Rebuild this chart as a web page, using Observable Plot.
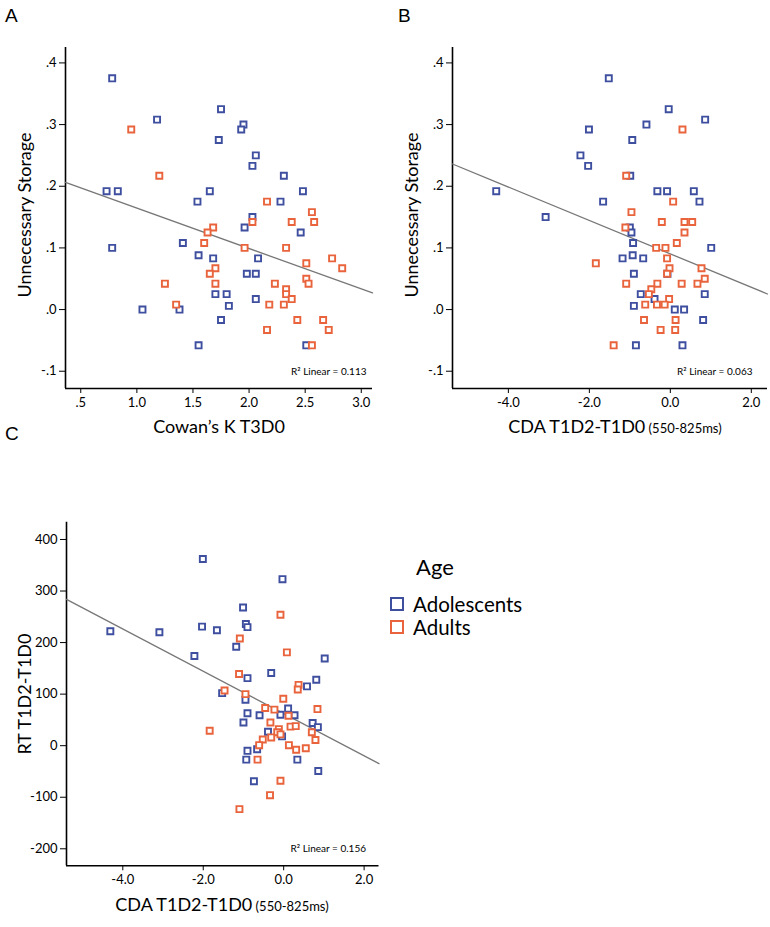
<!DOCTYPE html>
<html><head><meta charset="utf-8">
<script src="https://cdn.jsdelivr.net/npm/d3@7"></script>
<script src="https://cdn.jsdelivr.net/npm/@observablehq/plot@0.6"></script>
<style>
body{margin:0;background:#fff;}
#page{position:relative;width:770px;height:927px;font-family:Lato,"Open Sans",sans-serif;color:#000;overflow:hidden;}
.panel{position:absolute;}
.letter{position:absolute;font-family:"Liberation Sans Narrow","Liberation Sans",sans-serif;font-size:19px;line-height:1;}
#legend{position:absolute;left:390px;top:554px;font-family:Lato,"Open Sans",sans-serif;}
#legend .title{font-size:22px;line-height:25px;margin-left:26px;margin-bottom:13px;}
#legend .row{display:flex;align-items:center;font-size:20.5px;height:23px;}
#legend .sw{width:10px;height:10px;border:2px solid;margin-right:9px;box-sizing:content-box;}
</style></head><body><div id="page"></div>
<script>
// ---------- data ----------
const groups = ["Adolescents", "Adults"];
const groupColors = ["#3f4fa0", "#e9643c"];

// Panel A: Cowan's K T3D0 vs Unnecessary Storage
const adolA = [[0.78,0.375],[1.75,0.325],[1.18,0.308],[1.95,0.300],[1.93,0.292],[1.73,0.275],[2.06,0.250],[2.03,0.233],[2.31,0.217],[0.73,0.192],[0.83,0.192],[1.65,0.192],[2.48,0.192],[1.54,0.175],[2.28,0.175],[2.03,0.150],[1.96,0.133],[2.46,0.125],[1.41,0.108],[0.78,0.100],[1.55,0.088],[1.68,0.083],[2.08,0.083],[1.98,0.058],[2.06,0.058],[1.70,0.025],[1.80,0.025],[2.06,0.017],[1.82,0.006],[1.05,0.000],[1.38,0.000],[1.75,-0.017],[1.55,-0.058],[2.51,-0.058]];
const adultA = [[0.95,0.292],[1.20,0.217],[2.16,0.175],[2.56,0.158],[2.03,0.142],[2.38,0.142],[2.58,0.142],[1.68,0.133],[1.63,0.125],[1.60,0.108],[1.96,0.100],[2.33,0.100],[2.74,0.083],[2.51,0.075],[2.83,0.067],[1.70,0.067],[1.65,0.058],[2.51,0.050],[2.53,0.042],[1.25,0.042],[1.70,0.042],[2.23,0.042],[2.33,0.033],[2.33,0.025],[2.38,0.017],[2.18,0.008],[2.31,0.008],[1.35,0.008],[2.43,-0.017],[2.66,-0.017],[2.16,-0.033],[2.71,-0.033],[2.56,-0.058]];
const fitA = [0.230, -0.0655];   // intercept, slope
const r2A = "0.113";

// Panel B: CDA T1D2-T1D0 vs Unnecessary Storage
const adolB = [[-1.52,0.375],[-0.04,0.325],[0.86,0.308],[-0.59,0.300],[-2.01,0.292],[-0.94,0.275],[-2.22,0.250],[-2.03,0.233],[-0.99,0.217],[-4.30,0.192],[-0.32,0.192],[-0.08,0.192],[0.58,0.192],[-1.66,0.175],[0.72,0.175],[-3.08,0.150],[-1.00,0.133],[-0.96,0.125],[-0.92,0.108],[1.01,0.100],[-1.18,0.083],[-0.93,0.088],[-0.67,0.083],[-0.07,0.058],[-0.90,0.058],[-0.73,0.025],[0.85,0.025],[-0.39,0.017],[-0.90,0.006],[0.11,0.000],[0.34,0.000],[0.81,-0.017],[-0.85,-0.058],[0.30,-0.058]];
const adultB = [[0.30,0.292],[-1.09,0.217],[0.07,0.175],[-0.96,0.158],[-0.21,0.142],[0.35,0.142],[0.54,0.142],[-1.11,0.133],[0.35,0.125],[0.16,0.108],[-0.35,0.100],[-0.12,0.100],[-0.08,0.083],[-1.84,0.075],[-0.02,0.067],[0.77,0.067],[-0.08,0.058],[0.85,0.050],[-1.09,0.042],[-0.32,0.042],[0.28,0.042],[0.67,0.042],[-0.47,0.033],[-0.53,0.025],[-0.03,0.017],[-0.62,0.008],[-0.33,0.008],[-0.14,0.008],[-0.65,-0.017],[0.13,-0.017],[-0.24,-0.033],[0.12,-0.033],[-1.40,-0.058]];
const fitB = [0.0903, -0.0271];
const r2B = "0.063";

// Panel C: CDA T1D2-T1D0 vs RT T1D2-T1D0
const adolC = [[-2.01,362],[-0.03,323],[-1.01,268],[-0.94,236],[-0.90,230],[-2.03,231],[-1.66,224],[-4.31,222],[-3.09,220],[-1.18,192],[-2.22,174],[1.02,169],[-0.31,141],[-0.90,131],[0.81,128],[0.58,115],[-1.53,102],[-0.95,89],[0.11,72],[-0.90,63],[-0.60,59],[-0.08,60],[0.27,59],[-1.00,45],[0.72,44],[0.85,36],[-0.39,27],[-0.04,18],[-0.66,-7],[-0.90,-10],[-0.93,-27],[0.34,-27],[0.86,-49],[-0.74,-69]];
const adultC = [[-0.08,254],[-1.09,208],[0.08,181],[-1.11,139],[0.37,118],[0.35,109],[-1.47,107],[-0.95,100],[-0.01,91],[-0.46,73],[-0.23,70],[0.84,71],[0.12,58],[-0.33,45],[0.17,37],[0.30,38],[0.70,26],[-0.12,32],[-0.16,26],[-0.08,22],[-0.31,16],[-0.52,12],[-0.61,1],[0.13,1],[0.79,11],[0.31,-8],[0.55,-5],[-0.65,-27],[-1.84,29],[-0.08,-68],[-0.34,-96],[-1.10,-123]];
const fitC = [62.3, -41.0];
const r2C = "0.156";

// axis ticks
const ticksStorage = [-0.1, 0, 0.1, 0.2, 0.3, 0.4];
const ticksCowan = [0.5, 1.0, 1.5, 2.0, 2.5, 3.0];
const ticksCDA = [-4, -2, 0, 2];
const ticksRT = [-200, -100, 0, 100, 200, 300, 400];

// ---------- drawing ----------
const page = document.getElementById("page");
const dotFmt = v => v.toFixed(1).replace(/^(-?)0\./, "$1.");

function panel(o) {
  const [x0, x1] = o.xDomain, [y0, y1] = o.yDomain;
  const fitLine = [x0, x1].map(x => ({x, y: o.fit[0] + o.fit[1] * x}));
  const dotOpts = (c) => ({x: d => d[0], y: d => d[1], symbol: "square", r: 3.4, stroke: c, strokeWidth: 1.9, fill: "white"});
  const chart = Plot.plot({
    width: o.width, height: o.height,
    marginLeft: o.m[3], marginTop: o.m[0], marginRight: o.m[1], marginBottom: o.m[2],
    style: {fontFamily: "Lato, 'Open Sans', sans-serif", fontSize: "13px", color: "#000", background: "transparent", overflow: "visible"},
    x: {domain: o.xDomain, ticks: o.xTicks, tickFormat: o.xFmt, tickSize: 5, tickPadding: 4, label: null},
    y: {domain: o.yDomain, ticks: o.yTicks, tickFormat: o.yFmt, tickSize: 6, tickPadding: 3, label: null},
    marks: [
      Plot.ruleX([x0], {stroke: "#000", strokeWidth: 1.6}),
      Plot.ruleY([y0], {stroke: "#000", strokeWidth: 1.6}),
      Plot.line(fitLine, {x: "x", y: "y", stroke: "#777", strokeWidth: 1.3}),
      Plot.dot(o.adol, dotOpts(groupColors[0])),
      Plot.dot(o.adult, dotOpts(groupColors[1])),
      Plot.text([`R\u00b2 Linear = ${o.r2}`], {frameAnchor: "bottom-right", textAnchor: "end", dx: o.r2dx, dy: -14, fontSize: 10, fill: "#000"})
    ]
  });
  const svg = d3.select(chart);
  // y-axis title
  svg.append("text")
    .attr("transform", `translate(${o.yLab[0]},${o.yLab[1]}) rotate(-90)`)
    .attr("text-anchor", "middle").attr("font-size", 18).attr("fill", "#000")
    .text(o.yLabel);
  // x-axis title
  const t = svg.append("text")
    .attr("x", o.xLab[0]).attr("y", o.xLab[1])
    .attr("text-anchor", "middle").attr("font-size", 18).attr("fill", "#000");
  t.append("tspan").text(o.xLabel);
  if (o.xLabelSmall) t.append("tspan").attr("font-size", 13).text(" " + o.xLabelSmall);
  const div = document.createElement("div");
  div.className = "panel";
  div.style.left = o.left + "px"; div.style.top = o.top + "px";
  div.appendChild(chart);
  page.appendChild(div);
}

panel({
  left: 0, top: 0, width: 385, height: 450, m: [47, 13, 62, 65],
  xDomain: [0.364, 3.1], yDomain: [-0.128, 0.425],
  xTicks: ticksCowan, yTicks: ticksStorage, xFmt: dotFmt, yFmt: dotFmt,
  adol: adolA, adult: adultA, fit: fitA, r2: r2A, r2dx: -6,
  yLabel: "Unnecessary Storage", yLab: [31, 215],
  xLabel: "Cowan\u2019s K T3D0", xLab: [219, 433]
});
panel({
  left: 385, top: 0, width: 385, height: 450, m: [47, 3, 62, 67],
  xDomain: [-5.38, 2.4], yDomain: [-0.128, 0.425],
  xTicks: ticksCDA, yTicks: ticksStorage, xFmt: d => d.toFixed(1), yFmt: dotFmt,
  adol: adolB, adult: adultB, fit: fitB, r2: r2B, r2dx: -15,
  yLabel: "Unnecessary Storage", yLab: [33, 215],
  xLabel: "CDA T1D2-T1D0", xLabelSmall: "(550-825ms)", xLab: [230, 433]
});
panel({
  left: 0, top: 470, width: 385, height: 457, m: [51.7, 6.5, 61.7, 66],
  xDomain: [-5.4, 2.37], yDomain: [-233, 433.5],
  xTicks: ticksCDA, yTicks: ticksRT, xFmt: d => d.toFixed(1), yFmt: d => String(d),
  adol: adolC, adult: adultC, fit: fitC, r2: r2C, r2dx: -13,
  yLabel: "RT T1D2-T1D0", yLab: [31, 224],
  xLabel: "CDA T1D2-T1D0", xLabelSmall: "(550-825ms)", xLab: [222, 441]
});

// panel letters
[["A", 5, 6], ["B", 398, 6], ["C", 5, 424]].forEach(([s, x, y]) => {
  const d = document.createElement("div");
  d.className = "letter"; d.textContent = s;
  d.style.left = x + "px"; d.style.top = y + "px";
  page.appendChild(d);
});

// legend
const leg = document.createElement("div");
leg.id = "legend";
leg.innerHTML = `<div class="title">Age</div>` + groups.map((g, i) =>
  `<div class="row"><span class="sw" style="border-color:${groupColors[i]}"></span>${g}</div>`).join("");
page.appendChild(leg);
</script>
</body></html>
